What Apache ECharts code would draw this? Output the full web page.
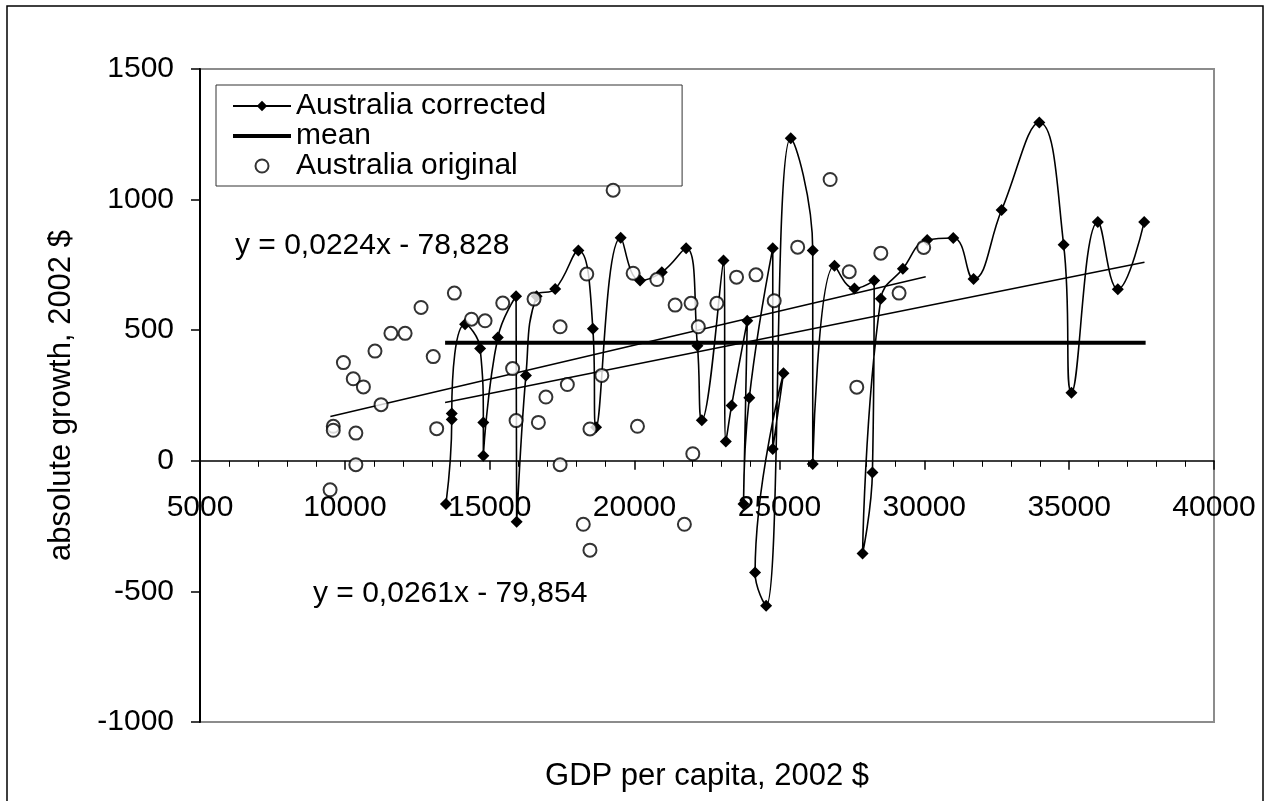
<!DOCTYPE html>
<html>
<head>
<meta charset="utf-8">
<script src="https://cdn.jsdelivr.net/npm/echarts@6/dist/echarts.min.js"></script>
<style>
html,body{margin:0;padding:0;background:#fff;}
#chart{width:1265px;height:801px;}
</style>
</head>
<body>
<div id="chart"></div>
<script>
// Australia corrected (in drawing order)
const corrX = [13490,13690,13690,14150,14670,14780,14780,15280,15910,15930,16250,16620,17260,18060,18560,18670,19520,20190,20940,21780,22170,22320,23070,23150,23350,23890,23760,23960,24770,24770,25140,24160,24540,25390,26150,26150,26900,27590,28270,28210,27870,28500,29260,30100,31000,31700,32670,33970,34810,35080,35990,36680,37590];
const corrY = [-165,158,181,523,430,147,19,472,630,-233,327,630,658,805,506,128,854,690,722,814,440,155,767,74,212,536,-165,241,814,45,335,-428,-555,1235,805,-12,747,660,690,-45,-355,620,735,845,853,696,960,1295,827,261,914,657,914];
// Australia original
const origX = [9490,9600,9600,9950,10290,10640,10380,10380,11040,11250,11590,12080,12630,13050,13170,13780,14370,14840,15450,15790,15910,16530,16680,16940,17430,17680,17430,18350,18460,18870,19260,19950,20770,20100,21400,21950,22840,22200,22010,23520,24190,24820,25630,26750,27410,27670,28500,29130,29980,18230,18460,21720];
const origY = [-111,132,117,376,314,283,106,-15,420,215,488,488,587,399,123,642,542,536,604,353,154,619,147,244,513,292,-15,715,122,327,1036,718,694,132,596,603,603,513,27,703,712,613,818,1077,724,282,795,642,817,-243,-342,-243];
// mean line
const meanX = [13460, 37640];
const meanY = [452, 452];
// linear trend lines
const trendOrigX = [9500, 30050];
const trendOrigY = [170, 705];
const trendCorrX = [13460, 37600];
const trendCorrY = [223, 760];
// labels
const seriesNames = ['Australia corrected', 'mean', 'Australia original'];
const eqCorr = 'y = 0,0224x - 78,828';
const eqOrig = 'y = 0,0261x - 79,854';
const xTitle = 'GDP per capita, 2002 $';
const yTitle = 'absolute growth, 2002 $';

const FONT = '"Liberation Sans", Arial, sans-serif';
const zip = (a, b) => a.map((v, i) => [v, b[i]]);
const plain = v => String(v);

// grid geometry
const GRID_TOP = 69, GRID_BOTTOM_Y = 722, Y_MIN = -1000, Y_MAX = 1500;
const zeroOffset = -((GRID_BOTTOM_Y - GRID_TOP) * (0 - Y_MIN) / (Y_MAX - Y_MIN));

const chart = echarts.init(document.getElementById('chart'), null, {renderer: 'canvas'});
chart.setOption({
  animation: false,
  backgroundColor: '#fff',
  textStyle: {fontFamily: FONT, color: '#000'},
  grid: {left: 200, right: 51, top: GRID_TOP, bottom: 801 - GRID_BOTTOM_Y, containLabel: false, outerBoundsMode: 'none',
         show: true, borderColor: '#8c8c8c', borderWidth: 2, backgroundColor: 'transparent'},
  xAxis: {
    type: 'value', min: 5000, max: 40000, interval: 5000,
    position: 'bottom', offset: zeroOffset,
    name: xTitle, nameLocation: 'middle', nameGap: 300,
    nameTextStyle: {fontSize: 31, color: '#000', fontFamily: FONT},
    axisLine: {onZero: false, lineStyle: {color: '#000', width: 1.5}},
    axisTick: {show: true, inside: false, length: 9, lineStyle: {color: '#000', width: 1.5}},
    minorTick: {show: true, splitNumber: 5, length: 6, lineStyle: {color: '#000', width: 1}},
    axisLabel: {fontSize: 30, color: '#000', margin: 32, fontFamily: FONT, formatter: plain},
    splitLine: {show: false}
  },
  yAxis: {
    type: 'value', min: Y_MIN, max: Y_MAX, interval: 500,
    name: yTitle, nameLocation: 'middle', nameGap: 123,
    nameTextStyle: {fontSize: 31, color: '#000', fontFamily: FONT},
    axisLine: {show: true, onZero: false, lineStyle: {color: '#000', width: 2}},
    axisTick: {show: true, inside: false, length: 9, lineStyle: {color: '#000', width: 1.5}},
    axisLabel: {fontSize: 30, color: '#000', margin: 26, fontFamily: FONT, formatter: plain},
    splitLine: {show: false}
  },
  legend: {
    orient: 'vertical', left: 216, top: 85,
    data: [
      {name: seriesNames[0]},
      {name: seriesNames[1], itemStyle: {opacity: 0}, lineStyle: {width: 4, color: '#000'}},
      {name: seriesNames[2]}
    ],
    itemWidth: 58, itemHeight: 13, itemGap: 0,
    padding: [6, 136, 5, 15],
    borderColor: '#333', borderWidth: 1, backgroundColor: '#fff',
    textStyle: {fontSize: 30, color: '#000', fontFamily: FONT},
    selectedMode: false
  },
  graphic: [
    {type: 'rect', silent: true, z: -10, shape: {x: 7, y: 6, width: 1256, height: 820}, style: {fill: 'none', stroke: '#000', lineWidth: 1.5}},
    {type: 'text', silent: true, z: 10, style: {text: eqCorr, x: 235, y: 246, verticalAlign: 'middle', fontSize: 30, fontFamily: FONT, fill: '#000'}},
    {type: 'text', silent: true, z: 10, style: {text: eqOrig, x: 313, y: 594, verticalAlign: 'middle', fontSize: 30, fontFamily: FONT, fill: '#000'}}
  ],
  series: [
    {
      name: seriesNames[0], type: 'line', data: zip(corrX, corrY),
      smooth: 0.45, symbol: 'diamond', symbolSize: 12, showSymbol: true,
      lineStyle: {color: '#000', width: 1.6}, itemStyle: {color: '#000'}, z: 3
    },
    {
      name: seriesNames[1], type: 'line', data: zip(meanX, meanY),
      symbol: 'none', lineStyle: {color: '#000', width: 4}, itemStyle: {color: '#000'}, z: 2
    },
    {
      name: seriesNames[2], type: 'scatter', data: zip(origX, origY),
      symbol: 'emptyCircle', symbolSize: 13,
      itemStyle: {color: '#000', borderColor: '#000', borderWidth: 1.5}, z: 4
    },
    {
      name: 'Linear (Australia original)', type: 'line', data: zip(trendOrigX, trendOrigY),
      symbol: 'none', lineStyle: {color: '#000', width: 1.5}, z: 2
    },
    {
      name: 'Linear (Australia corrected)', type: 'line', data: zip(trendCorrX, trendCorrY),
      symbol: 'none', lineStyle: {color: '#000', width: 1.5}, z: 2
    }
  ]
});
</script>
</body>
</html>
